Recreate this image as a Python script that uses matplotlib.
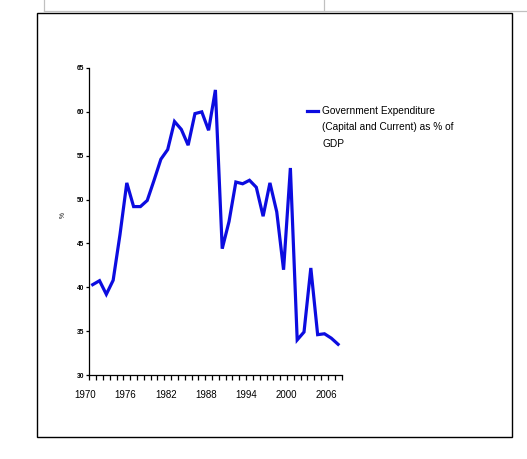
import numpy as np
import matplotlib
matplotlib.use('Agg')
import matplotlib.pyplot as plt
from matplotlib.patches import Rectangle
from matplotlib.lines import Line2D
from matplotlib.legend_handler import HandlerLine2D

plt.rcParams['font.family'] = ['Liberation Sans', 'DejaVu Sans']

# data (one value per year, 37 categories)
expenditure = [40.3, 40.75, 39.2, 40.8, 46.0, 51.9, 49.2, 49.2, 49.9, 52.2,
               54.6, 55.7, 58.9, 58.0, 56.2, 59.8, 60.0, 57.9, 62.5, 44.4,
               47.5, 52.0, 51.8, 52.2, 51.4, 48.1, 51.9, 48.6, 42.0, 53.6,
               34.0, 34.9, 42.2, 34.6, 34.7, 34.2, 33.5]
year_labels = ['1970', '1976', '1982', '1988', '1994', '2000', '2006']
label_pos = [-0.6, 5.3, 11.2, 17.1, 23.0, 28.9, 34.8]   # where Excel put the labels (category units)
y_ticks = [30, 35, 40, 45, 50, 55, 60, 65]


class FirstLineHandler(HandlerLine2D):
    # excel puts the legend key next to the first line of a wrapped label
    def __init__(self, dy, **kw):
        super().__init__(**kw)
        self.dy = dy

    def create_artists(self, *args, **kw):
        artists = super().create_artists(*args, **kw)
        for a in artists:
            a.set_ydata(np.asarray(a.get_ydata()) + self.dy)
        return artists


W, H = 527, 459
fig = plt.figure(figsize=(W / 100, H / 100), dpi=100)

# spreadsheet cell borders at the top + chart frame
gray = '#c0c0c0'
fig.add_artist(Line2D([44 / W, 1], [1 - 11 / H, 1 - 11 / H], color=gray, lw=0.9))
fig.add_artist(Line2D([44 / W, 44 / W], [1, 1 - 11 / H], color=gray, lw=0.9))
fig.add_artist(Line2D([324 / W, 324 / W], [1, 1 - 11 / H], color=gray, lw=0.9))
fig.add_artist(Rectangle((37 / W, 1 - 437 / H), 475 / W, 424 / H, fill=False,
                         edgecolor='black', lw=1.0, transform=fig.transFigure))

n = len(expenditure)
x = np.arange(n) + 0.5

ax = fig.add_axes([89.3 / W, 1 - 375 / H, 252.2 / W, 307 / H])
line, = ax.plot(x, expenditure, color='#0c0ce0', lw=2.3, solid_joinstyle='miter',
                label='Government Expenditure\n(Capital and Current) as % of\nGDP')

ax.set_xlim(0, n)
ax.set_ylim(30, 65)
ax.set_yticks(y_ticks)
ax.set_yticklabels([str(v) for v in y_ticks], fontsize=4.8, fontweight='bold')
ax.set_xticks(np.arange(0, n + 1))
ax.set_xticklabels([])
ax.tick_params(axis='x', direction='out', length=3.5, width=0.9)
ax.tick_params(axis='y', direction='out', length=2, width=0.9, pad=1.5)

for pos, lab in zip(label_pos, year_labels):
    ax.text(pos, -20 / 307, lab, transform=ax.get_xaxis_transform(), ha='center',
            va='center', fontsize=7, clip_on=False)

ax.set_ylabel('%', fontsize=4.8)
ax.yaxis.set_label_coords(-0.09, 0.52)

for s in ['top', 'right']:
    ax.spines[s].set_visible(False)
for s in ['left', 'bottom']:
    ax.spines[s].set_linewidth(0.9)

leg = fig.legend(handles=[line], loc='upper left', bbox_to_anchor=(307 / W, 1 - 106 / H),
                 frameon=False, fontsize=7.3, handlelength=1.1, handletextpad=0.4,
                 borderpad=0, borderaxespad=0,
                 handler_map={line: FirstLineHandler(dy=12)})
for t in leg.get_texts():
    t.set_linespacing(1.8)

fig.savefig('out.png', dpi=100)
